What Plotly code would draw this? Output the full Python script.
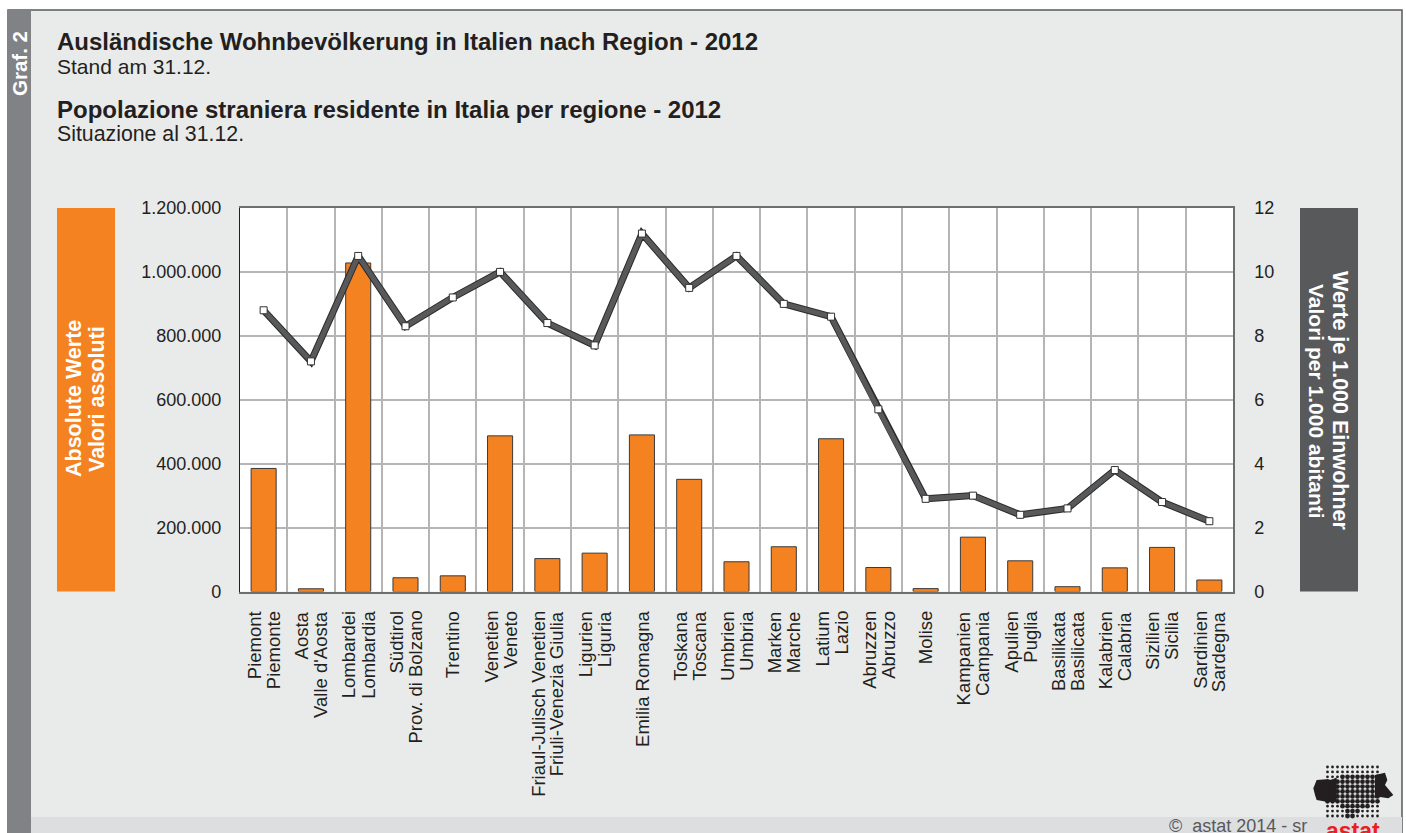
import plotly.graph_objects as go

W, H = 1406, 833
L, R, T, B = 240, 1233, 208, 591.5

line1 = ["Piemont", "Aosta", "Lombardei", "Südtirol", "", "Venetien", "Friaul-Julisch Venetien", "Ligurien",
         "", "Toskana", "Umbrien", "Marken", "Latium", "Abruzzen", "", "Kampanien", "Apulien", "Basilikata",
         "Kalabrien", "Sizilien", "Sardinien"]
line2 = ["Piemonte", "Valle d'Aosta", "Lombardia", "Prov. di Bolzano", "Trentino", "Veneto", "Friuli-Venezia Giulia", "Liguria",
         "Emilia Romagna", "Toscana", "Umbria", "Marche", "Lazio", "Abruzzo", "Molise", "Campania", "Puglia", "Basilicata",
         "Calabria", "Sicilia", "Sardegna"]
regions = [(a + " / " + b) if a else b for a, b in zip(line1, line2)]
absolute = [385000, 8500, 1028000, 43000, 49000, 487000, 103000, 120000, 490000, 351000, 93000,
            140000, 478000, 75000, 9000, 170000, 96000, 15000, 74000, 138000, 36000]
per_1000 = [8.8, 7.2, 10.5, 8.3, 9.2, 10.0, 8.4, 7.7, 11.2, 9.5, 10.5,
            9.0, 8.6, 5.7, 2.9, 3.0, 2.4, 2.6, 3.8, 2.8, 2.2]
left_ticks = [0, 200000, 400000, 600000, 800000, 1000000, 1200000]
left_labels = ["0", "200.000", "400.000", "600.000", "800.000", "1.000.000", "1.200.000"]
right_ticks = [0, 2, 4, 6, 8, 10, 12]

FONT = "Liberation Sans"
TXT = "#231F20"
px = lambda x: x / W
py = lambda y: 1 - y / H

fig = go.Figure()
fig.add_bar(x=regions, y=absolute, width=0.53, marker=dict(color="#F58220", line=dict(color="#3a3a3a", width=1)), yaxis="y")
fig.add_scatter(x=regions, y=per_1000, mode="lines", line=dict(color="#2b2b2b", width=7), yaxis="y2")
fig.add_scatter(x=regions, y=per_1000, mode="lines+markers", line=dict(color="#58595B", width=5),
                marker=dict(symbol="square", size=7, color="white", line=dict(color="#333333", width=1)), yaxis="y2")

shapes = []
def rect(x0, y0, x1, y1, color, line=None, layer="below"):
    shapes.append(dict(type="rect", xref="paper", yref="paper", x0=px(x0), x1=px(x1), y0=py(y0), y1=py(y1),
                       fillcolor=color, line=dict(color=line or color, width=1.5 if line else 0), layer=layer))

rect(8, 10, 1402, 840, "#E9EBEA", "#58595B")
rect(31, 817, 1402, 833, "#DCDEDF")
rect(8, 10, 31, 833, "#808285")
rect(57, 208, 115, 591.5, "#F58220")
rect(1300, 208, 1358, 591.5, "#58595B")
rect(L, T, R, B, "#FFFFFF")

# logo
blob_left = [(490, 265), (500, 240), (530, 238), (545, 240), (560, 232), (560, 305), (530, 305), (500, 300), (495, 285)]
blob_right = [(675, 225), (705, 218), (712, 240), (705, 255), (730, 285), (715, 295), (685, 290), (675, 295)]
for blob in (blob_left, blob_right):
    path = "M " + " L ".join(f"{px(1150 + a / 3):.5f},{py(700 + b / 3):.5f}" for a, b in blob) + " Z"
    shapes.append(dict(type="path", xref="paper", yref="paper", path=path, fillcolor="#231F20", line=dict(width=0), layer="above"))
row_spans = {2: (3, 10), 3: (0, 10), 4: (0, 10), 5: (0, 10), 6: (0, 10), 7: (0, 10), 8: (3, 8), 9: (4, 6), 10: (4, 5)}
for j in range(11):
    for i in range(11):
        cx, cy = 1327.5 + i * 5, 767 + j * 4.9
        span = row_spans.get(j)
        r = 2.4 if span and span[0] <= i <= span[1] else 1.4
        shapes.append(dict(type="circle", xref="paper", yref="paper", x0=px(cx - r), x1=px(cx + r),
                           y0=py(cy - r), y1=py(cy + r), fillcolor="#231F20", line=dict(width=0), layer="above"))

anns = []
def text(x, y, s, size, color=TXT, bold=False, angle=0, xanchor="left", yanchor="middle", align="left"):
    anns.append(dict(xref="paper", yref="paper", x=px(x), y=py(y), text=f"<b>{s}</b>" if bold else s, showarrow=False,
                     font=dict(family=FONT, size=size, color=color), textangle=angle, xanchor=xanchor, yanchor=yanchor,
                     align=align, borderpad=0))

text(55.5, 41, "Ausländische Wohnbevölkerung in Italien nach Region - 2012", 24, bold=True)
text(55.5, 66, "Stand am 31.12.", 21)
text(55.5, 109, "Popolazione straniera residente in Italia per regione - 2012", 24, bold=True)
text(55.5, 134, "Situazione al 31.12.", 21.3)
text(20, 64, "Graf. 2", 20.5, color="white", bold=True, angle=-90, xanchor="center")
text(74, 399, "Absolute Werte", 21.5, color="white", bold=True, angle=-90, xanchor="center")
text(97, 399, "Valori assoluti", 21.5, color="white", bold=True, angle=-90, xanchor="center")
text(1340, 401, "Werte je 1.000 Einwohner", 21.5, color="white", bold=True, angle=90, xanchor="center")
text(1317, 401, "Valori per 1.000 abitanti", 21, color="white", bold=True, angle=90, xanchor="center")
text(1168, 826, "©  astat 2014 - sr", 18, color="#58595B")
text(1352.5, 831, "astat", 23, color="#ED1C24", bold=True, xanchor="center")

# two-line category labels, tightly spaced, hung below the axis
for cat, a, b in zip(regions, line1, line2):
    for s, shift in ((a, -9.5), (b, 9.5)) if a else ((b, 0),):
        anns.append(dict(xref="x", yref="paper", x=cat, y=py(610), text=s, showarrow=False, textangle=-90,
                         xanchor="center", yanchor="top", xshift=shift, borderpad=0,
                         font=dict(family=FONT, size=18.5, color=TXT)))

axis_font = dict(family=FONT, size=18, color=TXT)
fig.update_layout(
    width=W, height=H, autosize=False, margin=dict(l=0, r=0, t=0, b=0, pad=0, autoexpand=False), showlegend=False,
    paper_bgcolor="white", plot_bgcolor="white", shapes=shapes, annotations=anns,
    font=dict(family=FONT),
    xaxis=dict(domain=[px(L), px(R)], type="category", categoryorder="array", categoryarray=regions, range=[-0.5, 20.5],
               tickson="boundaries", showgrid=True, gridcolor="#B5B5B5", gridwidth=1.5,
               ticks="", showticklabels=False, showline=True,
               linecolor="#6D6E71", linewidth=1.5, mirror=True, anchor="y"),
    yaxis=dict(domain=[py(B), py(T)], range=[0, 1200000], tickvals=left_ticks, ticktext=left_labels, showgrid=True,
               gridcolor="#B5B5B5", gridwidth=1.5, ticks="", tickfont=axis_font, showline=True, linecolor="#231F20",
               linewidth=1.2, zeroline=False, anchor="x", ticklabelstandoff=14),
    yaxis2=dict(domain=[py(B), py(T)], range=[0, 12], tickvals=right_ticks, overlaying="y", side="right", showgrid=False,
                ticks="", tickfont=axis_font, showline=True, linecolor="#6D6E71", linewidth=1.5,
                zeroline=False, anchor="x", ticklabelstandoff=16),
)
fig.write_html("out.html", config=dict(displayModeBar=False),
               post_script="document.body.style.margin='0';document.documentElement.style.overflow='hidden';")
